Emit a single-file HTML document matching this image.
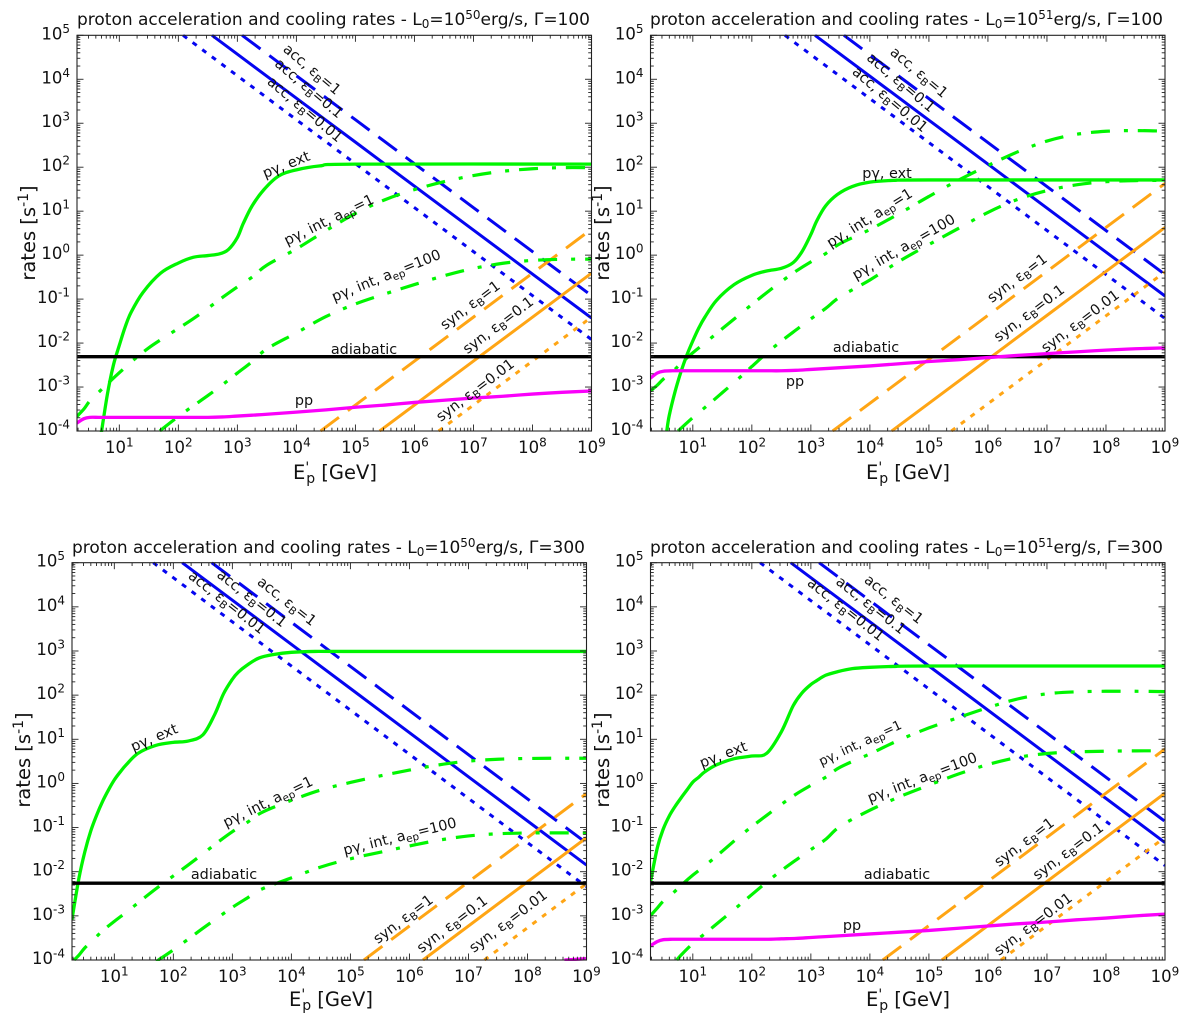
<!DOCTYPE html>
<html lang="en">
<head>
<meta charset="utf-8">
<title>Proton acceleration and cooling rates</title>
<style>
html,body{margin:0;padding:0;background:#fff;}
svg{display:block;}
text{font-family:"DejaVu Sans","Liberation Sans",sans-serif;fill:#111;}
.title{font-size:17px;}
.tick{font-size:16.5px;}
.tick .sup{font-size:12px;}
.axis-label{font-size:19.5px;}
.ann{font-size:14.4px;text-anchor:middle;}
.ann .sub{font-size:10.5px;}
</style>
</head>
<body>
<svg id="figure" xmlns="http://www.w3.org/2000/svg" width="1200" height="1021" viewBox="0 0 1200 1021">
  <defs id="clips"></defs>
  <g id="layer-p1"></g>
  <g id="layer-p2"></g>
  <g id="layer-p3"></g>
  <g id="layer-p4"></g>

  <!-- Panel 1 -->
  <g>
    <text class="title" x="77" y="25" textLength="513" lengthAdjust="spacingAndGlyphs">proton acceleration and cooling rates - L<tspan font-size="12" dy="3">0</tspan><tspan dy="-3">=10</tspan><tspan font-size="12" dy="-6">50</tspan><tspan dy="6">erg/s, Γ=100</tspan></text>
    <text class="axis-label" transform="translate(35,233) rotate(-90)" text-anchor="middle">rates [s<tspan font-size="14" dy="-7">-1</tspan><tspan dy="7">]</tspan></text>
    <text class="axis-label" x="335" y="479" text-anchor="middle">E<tspan font-size="14" dy="-7">'</tspan><tspan font-size="14" dy="11" dx="-3">p</tspan><tspan dy="-4"> [GeV]</tspan></text>
    <text class="ann" transform="translate(309,73) rotate(40)">acc, ε<tspan class="sub" dy="3">B</tspan><tspan dy="-3">=1</tspan></text>
    <text class="ann" transform="translate(306,92) rotate(40)">acc, ε<tspan class="sub" dy="3">B</tspan><tspan dy="-3">=0.1</tspan></text>
    <text class="ann" transform="translate(302,113) rotate(40)">acc, ε<tspan class="sub" dy="3">B</tspan><tspan dy="-3">=0.01</tspan></text>
    <text class="ann" transform="translate(288,169) rotate(-22)">pγ, ext</text>
    <text class="ann" transform="translate(331,224) rotate(-26)">pγ, int, a<tspan class="sub" dy="3">ep</tspan><tspan dy="-3">=1</tspan></text>
    <text class="ann" transform="translate(388,280) rotate(-22)">pγ, int, a<tspan class="sub" dy="3">ep</tspan><tspan dy="-3">=100</tspan></text>
    <text class="ann" transform="translate(473,309) rotate(-37)">syn, ε<tspan class="sub" dy="3">B</tspan><tspan dy="-3">=1</tspan></text>
    <text class="ann" transform="translate(501,329) rotate(-37)">syn, ε<tspan class="sub" dy="3">B</tspan><tspan dy="-3">=0.1</tspan></text>
    <text class="ann" transform="translate(478,394) rotate(-37)">syn, ε<tspan class="sub" dy="3">B</tspan><tspan dy="-3">=0.01</tspan></text>
    <text class="ann" x="364" y="354">adiabatic</text>
    <text class="ann" x="304" y="405">pp</text>
  </g>

  <!-- Panel 2 -->
  <g>
    <text class="title" x="650" y="25" textLength="513" lengthAdjust="spacingAndGlyphs">proton acceleration and cooling rates - L<tspan font-size="12" dy="3">0</tspan><tspan dy="-3">=10</tspan><tspan font-size="12" dy="-6">51</tspan><tspan dy="6">erg/s, Γ=100</tspan></text>
    <text class="axis-label" transform="translate(609,233) rotate(-90)" text-anchor="middle">rates [s<tspan font-size="14" dy="-7">-1</tspan><tspan dy="7">]</tspan></text>
    <text class="axis-label" x="908" y="479" text-anchor="middle">E<tspan font-size="14" dy="-7">'</tspan><tspan font-size="14" dy="11" dx="-3">p</tspan><tspan dy="-4"> [GeV]</tspan></text>
    <text class="ann" transform="translate(916,76) rotate(40)">acc, ε<tspan class="sub" dy="3">B</tspan><tspan dy="-3">=1</tspan></text>
    <text class="ann" transform="translate(898,86) rotate(40)">acc, ε<tspan class="sub" dy="3">B</tspan><tspan dy="-3">=0.1</tspan></text>
    <text class="ann" transform="translate(887,103) rotate(40)">acc, ε<tspan class="sub" dy="3">B</tspan><tspan dy="-3">=0.01</tspan></text>
    <text class="ann" x="887" y="178">pγ, ext</text>
    <text class="ann" transform="translate(872,222) rotate(-32)">pγ, int, a<tspan class="sub" dy="3">ep</tspan><tspan dy="-3">=1</tspan></text>
    <text class="ann" transform="translate(906,251) rotate(-30)">pγ, int, a<tspan class="sub" dy="3">ep</tspan><tspan dy="-3">=100</tspan></text>
    <text class="ann" transform="translate(1020,282) rotate(-37)">syn, ε<tspan class="sub" dy="3">B</tspan><tspan dy="-3">=1</tspan></text>
    <text class="ann" transform="translate(1032,317) rotate(-37)">syn, ε<tspan class="sub" dy="3">B</tspan><tspan dy="-3">=0.1</tspan></text>
    <text class="ann" transform="translate(1083,325) rotate(-37)">syn, ε<tspan class="sub" dy="3">B</tspan><tspan dy="-3">=0.01</tspan></text>
    <text class="ann" x="866" y="352">adiabatic</text>
    <text class="ann" x="795" y="386">pp</text>
  </g>

  <!-- Panel 3 -->
  <g>
    <text class="title" x="72" y="553" textLength="513" lengthAdjust="spacingAndGlyphs">proton acceleration and cooling rates - L<tspan font-size="12" dy="3">0</tspan><tspan dy="-3">=10</tspan><tspan font-size="12" dy="-6">50</tspan><tspan dy="6">erg/s, Γ=300</tspan></text>
    <text class="axis-label" transform="translate(30,760) rotate(-90)" text-anchor="middle">rates [s<tspan font-size="14" dy="-7">-1</tspan><tspan dy="7">]</tspan></text>
    <text class="axis-label" x="331" y="1006" text-anchor="middle">E<tspan font-size="14" dy="-7">'</tspan><tspan font-size="14" dy="11" dx="-3">p</tspan><tspan dy="-4"> [GeV]</tspan></text>
    <text class="ann" transform="translate(284,605) rotate(38)">acc, ε<tspan class="sub" dy="3">B</tspan><tspan dy="-3">=1</tspan></text>
    <text class="ann" transform="translate(249,602) rotate(38)">acc, ε<tspan class="sub" dy="3">B</tspan><tspan dy="-3">=0.1</tspan></text>
    <text class="ann" transform="translate(224,606) rotate(38)">acc, ε<tspan class="sub" dy="3">B</tspan><tspan dy="-3">=0.01</tspan></text>
    <text class="ann" transform="translate(156,742) rotate(-23)">pγ, ext</text>
    <text class="ann" transform="translate(270,806) rotate(-26)">pγ, int, a<tspan class="sub" dy="3">ep</tspan><tspan dy="-3">=1</tspan></text>
    <text class="ann" transform="translate(401,841) rotate(-14)">pγ, int, a<tspan class="sub" dy="3">ep</tspan><tspan dy="-3">=100</tspan></text>
    <text class="ann" transform="translate(406,923) rotate(-37)">syn, ε<tspan class="sub" dy="3">B</tspan><tspan dy="-3">=1</tspan></text>
    <text class="ann" transform="translate(455,928) rotate(-37)">syn, ε<tspan class="sub" dy="3">B</tspan><tspan dy="-3">=0.1</tspan></text>
    <text class="ann" transform="translate(511,925) rotate(-37)">syn, ε<tspan class="sub" dy="3">B</tspan><tspan dy="-3">=0.01</tspan></text>
    <text class="ann" x="224" y="879">adiabatic</text>
  </g>

  <!-- Panel 4 -->
  <g>
    <text class="title" x="650" y="553" textLength="513" lengthAdjust="spacingAndGlyphs">proton acceleration and cooling rates - L<tspan font-size="12" dy="3">0</tspan><tspan dy="-3">=10</tspan><tspan font-size="12" dy="-6">51</tspan><tspan dy="6">erg/s, Γ=300</tspan></text>
    <text class="axis-label" transform="translate(609,760) rotate(-90)" text-anchor="middle">rates [s<tspan font-size="14" dy="-7">-1</tspan><tspan dy="7">]</tspan></text>
    <text class="axis-label" x="908" y="1006" text-anchor="middle">E<tspan font-size="14" dy="-7">'</tspan><tspan font-size="14" dy="11" dx="-3">p</tspan><tspan dy="-4"> [GeV]</tspan></text>
    <text class="ann" transform="translate(891,603) rotate(38)">acc, ε<tspan class="sub" dy="3">B</tspan><tspan dy="-3">=1</tspan></text>
    <text class="ann" transform="translate(868,609) rotate(38)">acc, ε<tspan class="sub" dy="3">B</tspan><tspan dy="-3">=0.1</tspan></text>
    <text class="ann" transform="translate(843,613) rotate(38)">acc, ε<tspan class="sub" dy="3">B</tspan><tspan dy="-3">=0.01</tspan></text>
    <text class="ann" transform="translate(725,759) rotate(-21)">pγ, ext</text>
    <text class="ann" transform="translate(862,747) rotate(-25)" style="font-size:13px">pγ, int, a<tspan class="sub" dy="3">ep</tspan><tspan dy="-3">=1</tspan></text>
    <text class="ann" transform="translate(924,782) rotate(-21)">pγ, int, a<tspan class="sub" dy="3">ep</tspan><tspan dy="-3">=100</tspan></text>
    <text class="ann" transform="translate(1027,846) rotate(-37)">syn, ε<tspan class="sub" dy="3">B</tspan><tspan dy="-3">=1</tspan></text>
    <text class="ann" transform="translate(1071,855) rotate(-37)">syn, ε<tspan class="sub" dy="3">B</tspan><tspan dy="-3">=0.1</tspan></text>
    <text class="ann" transform="translate(1036,928) rotate(-37)">syn, ε<tspan class="sub" dy="3">B</tspan><tspan dy="-3">=0.01</tspan></text>
    <text class="ann" x="897" y="879">adiabatic</text>
    <text class="ann" x="852" y="930">pp</text>
  </g>
</svg>

<script>
// Axis tick exponents
const xTickExponents = [1, 2, 3, 4, 5, 6, 7, 8, 9];
const yTickExponents = [5, 4, 3, 2, 1, 0, -1, -2, -3, -4];

// Shared abscissae: log10(E'p / GeV)
const lineLogE = [1, 3, 5, 7, 9];
const adiabaticLogE = [0.28, 9];
const curveLogE = [0.28, 0.4, 0.5, 0.65, 0.8, 1, 1.25, 1.5, 1.75, 2, 2.25, 2.5, 2.75, 3, 3.25, 3.5, 4, 4.5, 5, 5.5, 6, 6.5, 7, 7.5, 8, 8.5, 9];
const extLogE = [0.28, 0.4, 0.5, 0.6, 0.7, 0.8, 0.9, 1, 1.1, 1.2, 1.4, 1.7, 2, 2.25, 2.5, 2.7, 2.85, 3, 3.1, 3.25, 3.45, 3.7, 4, 4.4, 5, 9];

// Panel 1: L0=1e50, Gamma=100. All rates are log10(rate / s^-1)
const p1AccEb1 = [7.08, 5.08, 3.08, 1.08, -0.92];
const p1AccEb01 = [6.57, 4.57, 2.57, 0.57, -1.43];
const p1AccEb001 = [6.08, 4.08, 2.08, 0.08, -1.92];
const p1SynEb1 = [-7.41, -5.41, -3.41, -1.41, 0.59];
const p1SynEb01 = [-8.41, -6.41, -4.41, -2.41, -0.41];
const p1SynEb001 = [-9.41, -7.41, -5.41, -3.41, -1.41];
const p1Adiabatic = [-2.31, -2.31];
const p1PgExt = [-9, -7.4, -6.2, -5.2, -4, -3.15, -2.5, -2.05, -1.63, -1.3, -0.85, -0.41, -0.18, -0.05, -0.01, 0.03, 0.13, 0.4, 0.72, 1.12, 1.49, 1.8, 1.94, 2.03, 2.07, 2.07];
const p1PgInt1 = [-3.67, -3.5, -3.33, -3.1, -2.95, -2.7, -2.35, -2.1, -1.88, -1.67, -1.45, -1.22, -0.95, -0.72, -0.5, -0.28, 0.15, 0.55, 0.98, 1.28, 1.5, 1.68, 1.82, 1.92, 1.97, 2, 1.99];
const p1PgInt100 = [-5.6, -5.5, -5.4, -5.2, -5, -4.8, -4.5, -4.2, -3.93, -3.66, -3.43, -3.2, -2.95, -2.68, -2.42, -2.17, -1.77, -1.36, -1.1, -0.88, -0.67, -0.46, -0.29, -0.17, -0.11, -0.09, -0.09];
const p1Pp = [-3.82, -3.72, -3.69, -3.69, -3.69, -3.69, -3.69, -3.69, -3.69, -3.69, -3.69, -3.69, -3.68, -3.66, -3.64, -3.62, -3.57, -3.52, -3.46, -3.41, -3.35, -3.3, -3.25, -3.21, -3.16, -3.12, -3.09];

// Panel 2: L0=1e51, Gamma=100
const p2AccEb1 = [7.56, 5.56, 3.56, 1.56, -0.44];
const p2AccEb01 = [7.07, 5.07, 3.07, 1.07, -0.93];
const p2AccEb001 = [6.56, 4.56, 2.56, 0.56, -1.44];
const p2SynEb1 = [-6.37, -4.37, -2.37, -0.37, 1.63];
const p2SynEb01 = [-7.37, -5.37, -3.37, -1.37, 0.63];
const p2SynEb001 = [-8.38, -6.38, -4.38, -2.38, -0.38];
const p2Adiabatic = [-2.31, -2.31];
const p2PgExt = [-8, -5.6, -4.5, -3.65, -3.1, -2.65, -2.27, -1.95, -1.66, -1.42, -1.03, -0.67, -0.46, -0.36, -0.3, -0.17, 0.08, 0.47, 0.78, 1.12, 1.38, 1.56, 1.66, 1.7, 1.71, 1.71];
const p2PgInt1 = [-3.09, -2.95, -2.83, -2.67, -2.47, -2.23, -1.95, -1.67, -1.4, -1.12, -0.85, -0.6, -0.35, -0.15, 0.04, 0.21, 0.6, 0.92, 1.35, 1.72, 2.03, 2.37, 2.62, 2.77, 2.83, 2.84, 2.82];
const p2PgInt100 = [-4.55, -4.4, -4.3, -4.13, -3.96, -3.7, -3.42, -3.12, -2.85, -2.53, -2.22, -1.95, -1.7, -1.45, -1.2, -1, -0.58, -0.1, 0.23, 0.6, 1, 1.29, 1.48, 1.62, 1.68, 1.7, 1.7];
const p2Pp = [-2.8, -2.68, -2.64, -2.63, -2.63, -2.63, -2.63, -2.63, -2.63, -2.63, -2.63, -2.63, -2.62, -2.6, -2.58, -2.56, -2.52, -2.47, -2.42, -2.38, -2.33, -2.28, -2.24, -2.2, -2.16, -2.13, -2.11];

// Panel 3: L0=1e50, Gamma=300
const p3AccEb1 = [6.65, 4.65, 2.65, 0.65, -1.35];
const p3AccEb01 = [6.15, 4.15, 2.15, 0.15, -1.85];
const p3AccEb001 = [5.66, 3.66, 1.66, -0.34, -2.34];
const p3SynEb1 = [-8.23, -6.23, -4.23, -2.23, -0.23];
const p3SynEb01 = [-9.23, -7.23, -5.23, -3.23, -1.23];
const p3SynEb001 = [-10.27, -8.27, -6.27, -4.27, -2.27];
const p3Adiabatic = [-2.26, -2.26];
const p3PgExt = [-3.1, -2.15, -1.55, -1.08, -0.72, -0.41, -0.15, 0.08, 0.26, 0.42, 0.68, 0.86, 0.93, 0.96, 1.1, 1.56, 2.03, 2.36, 2.52, 2.68, 2.84, 2.92, 2.97, 2.99, 2.99, 2.99];
const p3PgInt1 = [-4.05, -3.88, -3.75, -3.52, -3.35, -3.14, -2.87, -2.6, -2.33, -2.1, -1.85, -1.6, -1.33, -1.08, -0.88, -0.7, -0.35, -0.13, 0.02, 0.18, 0.3, 0.43, 0.52, 0.55, 0.57, 0.57, 0.57];
const p3PgInt100 = [-5.4, -5.3, -5.2, -5.05, -4.9, -4.7, -4.5, -4.22, -4, -3.77, -3.54, -3.27, -3.05, -2.8, -2.58, -2.43, -2.13, -1.87, -1.7, -1.56, -1.42, -1.27, -1.18, -1.13, -1.12, -1.12, -1.12];
const p3Pp = [-4.7, -4.6, -4.57, -4.57, -4.57, -4.57, -4.57, -4.57, -4.57, -4.57, -4.57, -4.57, -4.56, -4.54, -4.52, -4.5, -4.45, -4.4, -4.34, -4.29, -4.23, -4.18, -4.13, -4.09, -4.05, -4.01, -3.97];

// Panel 4: L0=1e51, Gamma=300
const p4AccEb1 = [7.14, 5.14, 3.14, 1.14, -0.86];
const p4AccEb01 = [6.66, 4.66, 2.66, 0.66, -1.34];
const p4AccEb001 = [6.14, 4.14, 2.14, 0.14, -1.86];
const p4SynEb1 = [-7.22, -5.22, -3.22, -1.22, 0.78];
const p4SynEb01 = [-8.22, -6.22, -4.22, -2.22, -0.22];
const p4SynEb001 = [-9.22, -7.22, -5.22, -3.22, -1.22];
const p4Adiabatic = [-2.26, -2.26];
const p4PgExt = [-2.25, -1.45, -1.03, -0.74, -0.52, -0.33, -0.15, 0.03, 0.14, 0.26, 0.42, 0.56, 0.62, 0.68, 1.17, 1.76, 2.05, 2.24, 2.33, 2.45, 2.53, 2.6, 2.63, 2.65, 2.66, 2.66];
const p4PgInt1 = [-3, -2.8, -2.68, -2.5, -2.33, -2.08, -1.82, -1.54, -1.24, -0.97, -0.73, -0.47, -0.23, -0.04, 0.13, 0.34, 0.67, 1, 1.27, 1.49, 1.72, 1.94, 2.05, 2.08, 2.09, 2.09, 2.08];
const p4PgInt100 = [-4.6, -4.45, -4.32, -4.13, -3.9, -3.63, -3.35, -3.08, -2.8, -2.52, -2.23, -1.97, -1.73, -1.5, -1.27, -1.03, -0.54, -0.32, -0.03, 0.22, 0.44, 0.61, 0.69, 0.72, 0.73, 0.74, 0.74];
const p4Pp = [-3.68, -3.58, -3.54, -3.53, -3.53, -3.53, -3.53, -3.53, -3.53, -3.53, -3.53, -3.52, -3.51, -3.49, -3.47, -3.45, -3.41, -3.37, -3.33, -3.28, -3.23, -3.18, -3.14, -3.09, -3.05, -3, -2.96];

const SVG_NS = 'http://www.w3.org/2000/svg';
const X_MIN_LOG = 0.283, X_MAX_LOG = 9, Y_MIN_LOG = -4, Y_MAX_LOG = 5;

function svgEl(tag, attrs, parent) {
  const el = document.createElementNS(SVG_NS, tag);
  for (const k in attrs) el.setAttribute(k, attrs[k]);
  parent.appendChild(el);
  return el;
}

function trimToRange(pts, top, bottom) {
  const out = [];
  for (let i = 0; i < pts.length; i++) {
    const p = pts[i];
    const inside = p[1] >= top && p[1] <= bottom;
    if (i > 0) {
      const q = pts[i - 1];
      const qInside = q[1] >= top && q[1] <= bottom;
      if (inside !== qInside) {
        const edge = (inside ? q[1] < top : p[1] < top) ? top : bottom;
        const t = (edge - q[1]) / (p[1] - q[1]);
        out.push([q[0] + t * (p[0] - q[0]), edge]);
      }
    }
    if (inside) out.push(p);
  }
  return out;
}

function smoothPath(pts) {
  if (pts.length < 2) return '';
  let d = 'M' + pts[0][0].toFixed(2) + ' ' + pts[0][1].toFixed(2);
  for (let i = 0; i < pts.length - 1; i++) {
    const p0 = pts[Math.max(i - 1, 0)], p1 = pts[i], p2 = pts[i + 1], p3 = pts[Math.min(i + 2, pts.length - 1)];
    const c1x = p1[0] + (p2[0] - p0[0]) / 6, c1y = p1[1] + (p2[1] - p0[1]) / 6;
    const c2x = p2[0] - (p3[0] - p1[0]) / 6, c2y = p2[1] - (p3[1] - p1[1]) / 6;
    d += 'C' + c1x.toFixed(2) + ' ' + c1y.toFixed(2) + ' ' + c2x.toFixed(2) + ' ' + c2y.toFixed(2) + ' ' + p2[0].toFixed(2) + ' ' + p2[1].toFixed(2);
  }
  return d;
}

// Light 1-2-1 filter that removes reading jitter from the hand-read internal curves.
function softened(values) {
  return values.map((v, i) => (i === 0 || i === values.length - 1) ? v : (values[i - 1] + 2 * v + values[i + 1]) / 4);
}

function drawPanel(num, left, right, top, bottom, s) {
  const g = document.getElementById('layer-p' + num);
  const xScale = v => left + (v - X_MIN_LOG) / (X_MAX_LOG - X_MIN_LOG) * (right - left);
  const yScale = v => bottom - (v - Y_MIN_LOG) / (Y_MAX_LOG - Y_MIN_LOG) * (bottom - top);

  const clip = svgEl('clipPath', { id: 'clip-p' + num }, document.getElementById('clips'));
  svgEl('rect', { x: left, y: top - 1, width: right - left, height: bottom - top + 2 }, clip);
  const marks = svgEl('g', { 'clip-path': 'url(#clip-p' + num + ')' }, g);

  const BLUE = '#0505f0', ORANGE = '#ffa514', LIME = '#00f500', MAGENTA = '#fa00fa';
  const DASHED = '23 11', DOTTED = '5 7', DASHDOT = '19 14 4 10';
  const series = [
    [lineLogE, s.accEb1, BLUE, DASHED, 3, 'acc-eb-1-line'],
    [lineLogE, s.accEb01, BLUE, null, 3, 'acc-eb-0.1-line'],
    [lineLogE, s.accEb001, BLUE, DOTTED, 3, 'acc-eb-0.01-line'],
    [lineLogE, s.synEb1, ORANGE, DASHED, 3, 'syn-eb-1-line'],
    [lineLogE, s.synEb01, ORANGE, null, 3, 'syn-eb-0.1-line'],
    [lineLogE, s.synEb001, ORANGE, DOTTED, 3, 'syn-eb-0.01-line'],
    [curveLogE, softened(s.pgInt1), LIME, DASHDOT, 3.2, 'pg-int-aep-1-line'],
    [curveLogE, softened(s.pgInt100), LIME, DASHDOT, 3.2, 'pg-int-aep-100-line'],
    [extLogE, s.pgExt, LIME, null, 3.3, 'pg-ext-line'],
    [adiabaticLogE, s.adiabatic, '#000', null, 3.3, 'adiabatic-line'],
    [curveLogE, s.pp, MAGENTA, null, 3.3, 'pp-line']
  ];
  series.forEach(function (def) {
    const pts = def[0].map((e, i) => [xScale(e), yScale(def[1][i])]);
    const path = svgEl('path', {
      d: smoothPath(trimToRange(pts, top, bottom)),
      fill: 'none',
      stroke: def[2],
      'stroke-width': def[4]
    }, marks);
    if (def[3]) path.setAttribute('stroke-dasharray', def[3]);
    
    
  });

  // Frame
  const frame = svgEl('rect', { x: left, y: top, width: right - left, height: bottom - top, fill: 'none', stroke: '#222', 'stroke-width': 1.1 }, g);
  
  

  // Ticks
  const ticks = svgEl('g', { stroke: '#222', 'stroke-width': 0.9 }, g);
  
  
  const MAJOR = 6.5, MINOR = 3.3;
  function xTick(v, len) {
    const x = xScale(v);
    svgEl('line', { x1: x, x2: x, y1: bottom, y2: bottom - len }, ticks);
    svgEl('line', { x1: x, x2: x, y1: top, y2: top + len }, ticks);
  }
  function yTick(v, len) {
    const y = yScale(v);
    svgEl('line', { x1: left, x2: left + len, y1: y, y2: y }, ticks);
    svgEl('line', { x1: right, x2: right - len, y1: y, y2: y }, ticks);
  }
  for (let d = 0; d < 9; d++) {
    for (let m = 2; m <= 9; m++) {
      const v = d + Math.log10(m);
      if (v > X_MIN_LOG) xTick(v, MINOR);
    }
  }
  for (let d = Y_MIN_LOG; d < Y_MAX_LOG; d++) {
    for (let m = 2; m <= 9; m++) yTick(d + Math.log10(m), MINOR);
  }
  xTickExponents.forEach(v => xTick(v, MAJOR));
  yTickExponents.forEach(v => yTick(v, MAJOR));

  // Tick labels
  xTickExponents.forEach(function (v) {
    const t = svgEl('text', { class: 'tick', x: xScale(v), y: bottom + 22, 'text-anchor': 'middle' }, g);
    t.textContent = '10';
    const sup = svgEl('tspan', { class: 'sup', dy: -6.5 }, t);
    sup.textContent = String(v);
    
    
  });
  yTickExponents.forEach(function (v) {
    const t = svgEl('text', { class: 'tick', x: left - 7, y: yScale(v) + 4, 'text-anchor': 'end' }, g);
    t.textContent = '10';
    const sup = svgEl('tspan', { class: 'sup', dy: -6.5 }, t);
    sup.textContent = String(v);
    
    
  });
}

drawPanel(1, 77, 591.5, 35.3, 431, { accEb1: p1AccEb1, accEb01: p1AccEb01, accEb001: p1AccEb001, synEb1: p1SynEb1, synEb01: p1SynEb01, synEb001: p1SynEb001, adiabatic: p1Adiabatic, pgExt: p1PgExt, pgInt1: p1PgInt1, pgInt100: p1PgInt100, pp: p1Pp });
drawPanel(2, 650.5, 1165, 35.3, 431, { accEb1: p2AccEb1, accEb01: p2AccEb01, accEb001: p2AccEb001, synEb1: p2SynEb1, synEb01: p2SynEb01, synEb001: p2SynEb001, adiabatic: p2Adiabatic, pgExt: p2PgExt, pgInt1: p2PgInt1, pgInt100: p2PgInt100, pp: p2Pp });
drawPanel(3, 72, 586.5, 562.7, 960, { accEb1: p3AccEb1, accEb01: p3AccEb01, accEb001: p3AccEb001, synEb1: p3SynEb1, synEb01: p3SynEb01, synEb001: p3SynEb001, adiabatic: p3Adiabatic, pgExt: p3PgExt, pgInt1: p3PgInt1, pgInt100: p3PgInt100, pp: p3Pp });
drawPanel(4, 650.5, 1165, 562.7, 960, { accEb1: p4AccEb1, accEb01: p4AccEb01, accEb001: p4AccEb001, synEb1: p4SynEb1, synEb01: p4SynEb01, synEb001: p4SynEb001, adiabatic: p4Adiabatic, pgExt: p4PgExt, pgInt1: p4PgInt1, pgInt100: p4PgInt100, pp: p4Pp });
</script>
</body>
</html>
